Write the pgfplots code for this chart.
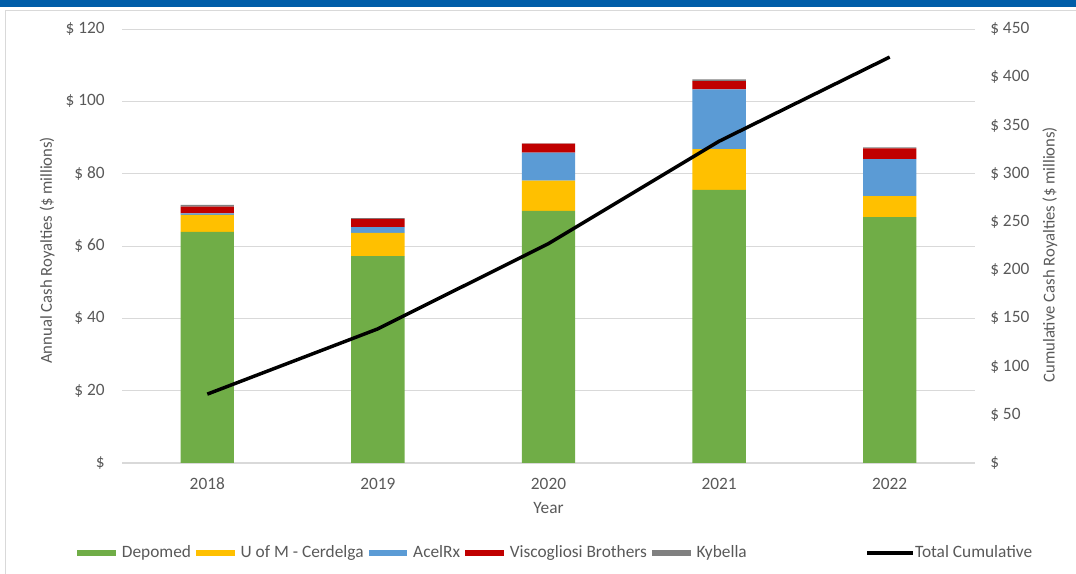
\documentclass[border=0pt]{standalone}
\usepackage{pgfplots}
\pgfplotsset{compat=1.18}
\usepackage{fontspec}
\setmainfont{Carlito}
\definecolor{cgreen}{HTML}{70AD47}
\definecolor{cyellow}{HTML}{FFC000}
\definecolor{cblue}{HTML}{5B9BD5}
\definecolor{cred}{HTML}{C00000}
\definecolor{cgray}{HTML}{808080}
\definecolor{ctext}{HTML}{595959}
\definecolor{cgrid}{HTML}{D9D9D9}
\definecolor{cband}{HTML}{005DA8}
\begin{document}
\begin{tikzpicture}
\useasboundingbox (0,0) rectangle (807pt,430.5pt);
\fill[cband] (0,425.25pt) rectangle (807pt,430.5pt);
\draw[cgrid, line width=0.6pt] (3.75pt,0) -- (3.75pt,423pt) -- (807pt,423pt);
\begin{axis}[
  at={(91.5pt,83.25pt)}, anchor=south west,
  scale only axis, width=639.75pt, height=325.5pt,
  xmin=-0.5, xmax=4.5, ymin=0, ymax=120,
  xtick={0,1,2,3,4}, xticklabels={2018,2019,2020,2021,2022},
  ytick={0,20,40,60,80,100,120},
  yticklabels={\$,\$ 20,\$ 40,\$ 60,\$ 80,\$ 100,\$ 120},
  major tick length=0pt,
  axis x line*=bottom, axis y line*=left,
  x axis line style={cgrid, line width=0.8pt, -},
  y axis line style={draw=none},
  ymajorgrids, grid style={cgrid, line width=0.6pt},
  font=\fontsize{13}{15}\selectfont,
  every tick label/.append style={text=ctext, font=\fontsize{13}{15}\selectfont},
  xticklabel style={anchor=center, yshift=-15.75pt},
  yticklabel style={anchor=east, inner sep=0pt, xshift=-12.75pt},
  xlabel={Year}, ylabel={Annual Cash Royalties (\$ millions)},
  xlabel style={at={(axis description cs:0.5,-0.1037)}, anchor=center, text=ctext, font=\fontsize{13}{15}\selectfont},
  ylabel style={at={(axis description cs:-0.0879,0.49)}, anchor=center, text=ctext, font=\fontsize{12.5}{15}\selectfont},
  ybar stacked, bar width=40pt,
  legend columns=-1,
  legend style={at={(axis description cs:0.34,-0.207)}, anchor=center, draw=none, fill=none,
    font=\fontsize{13}{15}\selectfont, text=ctext,
    nodes={inner sep=0pt},
    /tikz/every even column/.append style={column sep=3.75pt},
    /tikz/every odd column/.append style={column sep=4.5pt}},
  legend image code/.code={\fill[#1] (0pt,-2.5pt) rectangle (29pt,2.5pt);},
]
\addplot[fill=cgreen, draw=none] coordinates {(0,63.9) (1,57.2) (2,69.7) (3,75.5) (4,68.0)};
\addplot[fill=cyellow, draw=none] coordinates {(0,4.7) (1,6.4) (2,8.4) (3,11.3) (4,5.8)};
\addplot[fill=cblue, draw=none] coordinates {(0,0.4) (1,1.6) (2,7.7) (3,16.5) (4,10.2)};
\addplot[fill=cred, draw=none] coordinates {(0,1.9) (1,2.3) (2,2.5) (3,2.3) (4,3.0)};
\addplot[fill=cgray, draw=none] coordinates {(0,0.5) (1,0.2) (2,0.1) (3,0.5) (4,0.3)};
\legend{Depomed,U of M - Cerdelga,AcelRx,Viscogliosi Brothers,Kybella}
\end{axis}
\begin{axis}[
  at={(91.5pt,83.25pt)}, anchor=south west,
  scale only axis, width=639.75pt, height=325.5pt,
  xmin=-0.5, xmax=4.5, ymin=0, ymax=450,
  ytick={0,50,100,150,200,250,300,350,400,450},
  yticklabels={\$,\$ 50,\$ 100,\$ 150,\$ 200,\$ 250,\$ 300,\$ 350,\$ 400,\$ 450},
  major tick length=0pt,
  hide x axis, axis y line*=right,
  y axis line style={draw=none},
  every tick label/.append style={text=ctext, font=\fontsize{13}{15}\selectfont},
  yticklabel style={anchor=west, inner sep=0pt, xshift=11.25pt},
  ylabel={Cumulative Cash Royalties (\$ millions)},
  ylabel style={at={(axis description cs:1.0879,0.48)}, anchor=center, rotate=0, text=ctext, font=\fontsize{12.5}{15}\selectfont},
  legend style={at={(axis description cs:0.9695,-0.207)}, anchor=center, draw=none, fill=none,
    font=\fontsize{13}{15}\selectfont, text=ctext, nodes={inner sep=0pt}},
  legend image code/.code={\draw[#1] (0pt,0pt) -- (34.5pt,0pt);},
]
\addplot[black, line width=2.6pt, mark=none] coordinates {(0,71.4) (1,139.1) (2,227.5) (3,333.6) (4,420.9)};
\legend{Total Cumulative}
\end{axis}
\end{tikzpicture}
\end{document}
